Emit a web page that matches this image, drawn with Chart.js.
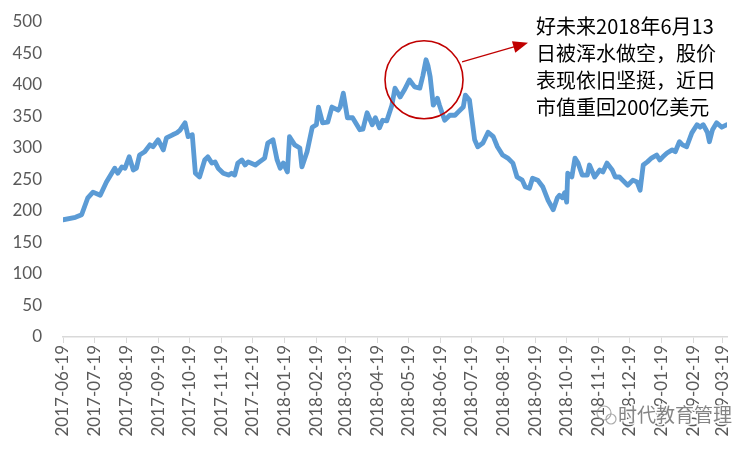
<!DOCTYPE html>
<html>
<head>
<meta charset="utf-8">
<script src="https://cdn.jsdelivr.net/npm/chart.js@4.4.0/dist/chart.umd.min.js"></script>
<style>
  html, body { margin: 0; padding: 0; background: #fff; }
  #wrap { width: 750px; height: 450px; }
</style>
</head>
<body>
<div id="wrap"><canvas id="chart" width="750" height="450"></canvas></div>
<script>
// market cap (100M USD)
const dates = [
  '2017-06-19','2017-07-01','2017-07-07','2017-07-13','2017-07-18','2017-07-25','2017-07-31',
  '2017-08-08','2017-08-11','2017-08-15','2017-08-18','2017-08-22','2017-08-26','2017-08-29',
  '2017-09-01','2017-09-06','2017-09-11','2017-09-14','2017-09-19','2017-09-24','2017-09-27',
  '2017-10-03','2017-10-07','2017-10-10','2017-10-15','2017-10-18','2017-10-22','2017-10-25','2017-10-29',
  '2017-11-03','2017-11-06','2017-11-10','2017-11-13','2017-11-16','2017-11-21','2017-11-26','2017-11-29',
  '2017-12-02','2017-12-05','2017-12-09','2017-12-12','2017-12-15','2017-12-22','2017-12-26','2017-12-31',
  '2018-01-03','2018-01-08','2018-01-12','2018-01-15','2018-01-18','2018-01-22','2018-01-24','2018-01-29',
  '2018-02-03','2018-02-05','2018-02-10','2018-02-15','2018-02-19','2018-02-21','2018-02-25',
  '2018-03-02','2018-03-06','2018-03-12','2018-03-14','2018-03-17','2018-03-21','2018-03-26',
  '2018-04-02','2018-04-05','2018-04-09','2018-04-14','2018-04-17','2018-04-21','2018-04-24','2018-04-28',
  '2018-05-03','2018-05-06','2018-05-11','2018-05-15','2018-05-20','2018-05-25','2018-05-30',
  '2018-06-02','2018-06-05','2018-06-07','2018-06-09','2018-06-12','2018-06-16','2018-06-18','2018-06-23','2018-06-28',
  '2018-07-03','2018-07-06','2018-07-11','2018-07-13','2018-07-17','2018-07-22','2018-07-25','2018-07-30',
  '2018-08-04','2018-08-09','2018-08-13','2018-08-18','2018-08-23','2018-08-28',
  '2018-09-01','2018-09-06','2018-09-09','2018-09-13','2018-09-16','2018-09-21','2018-09-26',
  '2018-10-01','2018-10-06','2018-10-10','2018-10-12','2018-10-15','2018-10-17','2018-10-19','2018-10-20','2018-10-24','2018-10-27','2018-10-30',
  '2018-11-03','2018-11-08','2018-11-10','2018-11-15','2018-11-20','2018-11-23','2018-11-27',
  '2018-12-02','2018-12-05','2018-12-09','2018-12-12','2018-12-17','2018-12-22','2018-12-26','2018-12-29',
  '2019-01-01','2019-01-05','2019-01-09','2019-01-14','2019-01-17','2019-01-20','2019-01-24','2019-01-29',
  '2019-02-01','2019-02-05','2019-02-08','2019-02-12','2019-02-17','2019-02-22','2019-02-25','2019-02-28',
  '2019-03-04','2019-03-06','2019-03-09','2019-03-13','2019-03-18','2019-03-23'
];
const values = [
  186,190,194,221,230,225,246,
  268,260,270,268,286,265,268,
  289,294,305,302,313,297,316,
  321,324,328,340,318,321,260,254,
  281,286,276,278,268,260,257,260,
  257,276,281,273,278,273,278,284,
  308,313,281,268,276,262,318,305,
  300,270,294,333,337,365,340,
  341,365,360,365,387,348,348,
  329,330,356,337,348,332,344,343,
  368,395,381,392,408,397,395,
  415,440,430,413,368,379,368,344,352,
  352,357,365,384,376,313,302,308,
  325,318,302,289,284,276,
  254,249,238,236,252,249,238,
  217,202,221,225,221,229,214,260,254,284,276,
  257,257,273,254,265,262,276,
  265,254,254,249,241,249,246,233,
  273,278,284,289,281,286,292,297,
  294,310,305,302,324,337,333,337,
  325,310,329,340,333,337
];
const tickLabels = [
  '2017-06-19','2017-07-19','2017-08-19','2017-09-19','2017-10-19','2017-11-19','2017-12-19',
  '2018-01-19','2018-02-19','2018-03-19','2018-04-19','2018-05-19','2018-06-19','2018-07-19',
  '2018-08-19','2018-09-19','2018-10-19','2018-11-19','2018-12-19','2019-01-19','2019-02-19','2019-03-19'
];
const axisEnd = '2019-03-23';
const noteLines = ['好未来2018年6月13', '日被浑水做空，股价', '表现依旧坚挺，近日', '市值重回200亿美元'];
const watermark = '时代教育管理';

const dayOf = s => (Date.parse(s) - Date.parse(dates[0])) / 86400000;

const noteColor = '#C00000';
const axisFont = { family: 'Lato, "Noto Sans", sans-serif', size: 17 };

const notePlugin = {
  id: 'note',
  afterDatasetsDraw(chart) {
    const { ctx, scales: { x, y } } = chart;
    const k = values.indexOf(Math.max(...values));
    const px = x.getPixelForValue(dayOf(dates[k]));
    const py = y.getPixelForValue(values[k]);
    const cx = px - 2, cy = py + 20, r = 39;

    ctx.save();
    ctx.strokeStyle = noteColor;
    ctx.fillStyle = noteColor;
    ctx.lineWidth = 1.6;
    ctx.beginPath();
    ctx.arc(cx, cy, r, 0, Math.PI * 2);
    ctx.stroke();

    // arrow from circle edge to the text
    const sx = cx + 38, sy = cy - 18;
    const ex = cx + 104, ey = cy - 37;
    const ang = Math.atan2(ey - sy, ex - sx);
    ctx.lineWidth = 1.2;
    ctx.beginPath();
    ctx.moveTo(sx, sy);
    ctx.lineTo(ex - 12 * Math.cos(ang), ey - 12 * Math.sin(ang));
    ctx.stroke();
    ctx.beginPath();
    ctx.moveTo(ex, ey);
    ctx.lineTo(ex - 15 * Math.cos(ang) + 6 * Math.sin(ang), ey - 15 * Math.sin(ang) - 6 * Math.cos(ang));
    ctx.lineTo(ex - 15 * Math.cos(ang) - 6 * Math.sin(ang), ey - 15 * Math.sin(ang) + 6 * Math.cos(ang));
    ctx.closePath();
    ctx.fill();

    ctx.fillStyle = '#000';
    ctx.font = '20px "Noto Sans CJK SC", sans-serif';
    ctx.textBaseline = 'middle';
    ctx.textAlign = 'left';
    noteLines.forEach((t, i) => ctx.fillText(t, ex + 8, 26 + i * 27));
    ctx.restore();
  },
  afterDraw(chart) {
    const { ctx } = chart;
    ctx.save();
    ctx.font = '19px "Noto Sans CJK SC", sans-serif';
    ctx.textBaseline = 'middle';
    ctx.textAlign = 'left';
    ctx.lineWidth = 3;
    ctx.strokeStyle = 'rgba(255,255,255,0.9)';
    ctx.strokeText(watermark, 618, 415);
    ctx.fillStyle = 'rgba(110,110,110,0.85)';
    ctx.fillText(watermark, 618, 415);
    ctx.strokeStyle = 'rgba(150,150,150,0.8)';
    ctx.lineWidth = 1.2;
    ctx.beginPath();
    ctx.arc(604, 413, 7, 0, Math.PI * 2);
    ctx.stroke();
    ctx.beginPath();
    ctx.arc(611, 419, 5, 0, Math.PI * 2);
    ctx.stroke();
    ctx.restore();
  }
};

new Chart(document.getElementById('chart'), {
  type: 'line',
  data: {
    datasets: [{
      data: dates.map((d, i) => ({ x: dayOf(d), y: values[i] })),
      borderColor: '#5B9BD5',
      borderWidth: 4.8,
      borderJoinStyle: 'round',
      borderCapStyle: 'round',
      pointRadius: 0,
      tension: 0,
      fill: false
    }]
  },
  options: {
    responsive: false,
    animation: false,
    layout: { padding: { top: 22, right: 23, left: 0, bottom: 0 } },
    plugins: { legend: { display: false }, tooltip: { enabled: false } },
    scales: {
      x: {
        type: 'linear',
        min: 0,
        max: dayOf(axisEnd),
        afterBuildTicks: scale => { scale.ticks = tickLabels.map(s => ({ value: dayOf(s) })); },
        afterFit: scale => { scale.height = 113; },
        grid: { display: true, drawOnChartArea: false, drawTicks: true, tickLength: 6, color: '#D9D9D9' },
        border: { display: true, color: '#D9D9D9', width: 1.5 },
        ticks: {
          autoSkip: false,
          minRotation: 90,
          maxRotation: 90,
          padding: 2,
          color: '#595959',
          font: axisFont,
          callback: (v, i) => tickLabels[i]
        }
      },
      y: {
        min: 0,
        max: 500,
        afterFit: scale => {
          scale.width = 63;
          scale.paddingTop = 9;
          scale.paddingBottom = 9;
        },
        grid: { display: false, drawTicks: false, tickLength: 0 },
        border: { display: false },
        ticks: { stepSize: 50, padding: 21, color: '#595959', font: axisFont }
      }
    }
  },
  plugins: [notePlugin]
});
</script>
</body>
</html>
